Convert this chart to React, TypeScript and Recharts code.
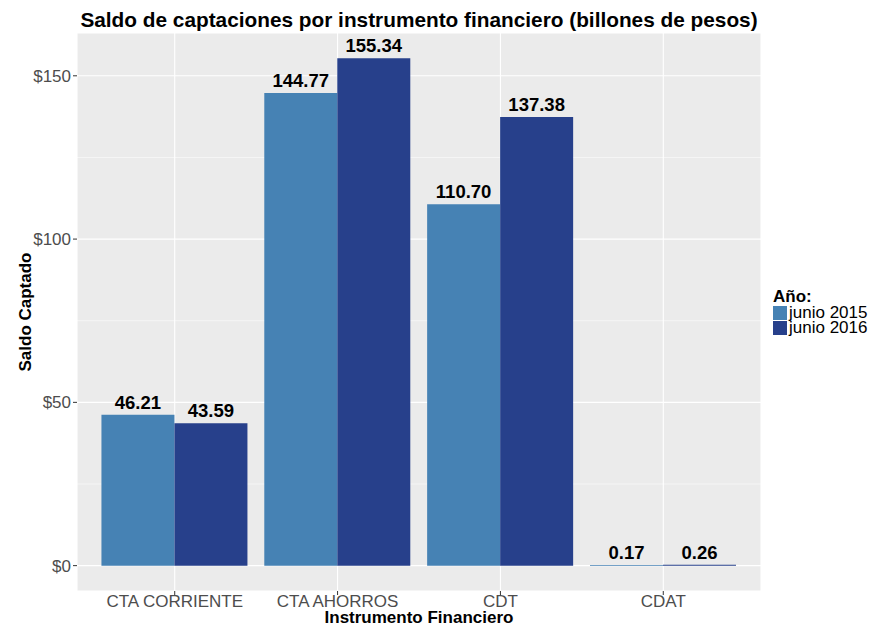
import React from "react";
import {
  Bar,
  BarChart,
  CartesianGrid,
  LabelList,
  XAxis,
  YAxis,
} from "recharts";

const categories = ["CTA CORRIENTE", "CTA AHORROS", "CDT", "CDAT"];
const junio2015 = [46.21, 144.77, 110.7, 0.17];
const junio2016 = [43.59, 155.34, 137.38, 0.26];
const yTicks = [0, 50, 100, 150];
const minorTicks = [25, 75, 125];

const seriesNames = ["junio 2015", "junio 2016"];
const colors = ["#4682B4", "#27408B"];

const FONT = "'Liberation Sans', Arial, Helvetica, sans-serif";

const data = categories.map((name, i) => ({
  name,
  y2015: junio2015[i],
  y2016: junio2016[i],
}));

const fmt = (v: any) => Number(v).toFixed(2);

const labelStyle = { fill: "#000", fontSize: 18.5, fontWeight: "bold", fontFamily: FONT };

export default function App() {
  return (
    <div style={{ position: "relative", width: 872, height: 628, fontFamily: FONT }}>
      <style>{"body{margin:0;background:#fff}"}</style>
      <BarChart
        width={872}
        height={628}
        data={data}
        margin={{ top: 33, right: 111, bottom: 0, left: 0 }}
        barCategoryGap="5%"
        barGap={0}
      >
        <CartesianGrid fill="#EBEBEB" stroke="#FFFFFF" strokeWidth={1.1} />
        {/* minor grid, thinner, still behind the bars */}
        <CartesianGrid
          vertical={false}
          horizontalValues={minorTicks}
          stroke="#FFFFFF"
          strokeWidth={0.55}
        />
        <XAxis
          dataKey="name"
          height={37}
          axisLine={false}
          tickSize={4}
          tickMargin={0}
          tickLine={{ stroke: "#333333" }}
          padding={{ left: 16.3, right: 16.3 }}
          tick={{ fill: "#4D4D4D", fontSize: 17, fontFamily: FONT }}
          interval={0}
        />
        <YAxis
          width={77}
          domain={[-7.77, 163.11]}
          ticks={yTicks}
          allowDataOverflow
          axisLine={false}
          tickSize={4}
          tickMargin={2}
          tickLine={{ stroke: "#333333" }}
          tickFormatter={(v) => `$${v}`}
          tick={{ fill: "#4D4D4D", fontSize: 17, fontFamily: FONT }}
        />
        <Bar dataKey="y2015" name={seriesNames[0]} fill={colors[0]} isAnimationActive={false}>
          <LabelList dataKey="y2015" position="top" offset={6} formatter={fmt} style={labelStyle} />
        </Bar>
        <Bar dataKey="y2016" name={seriesNames[1]} fill={colors[1]} isAnimationActive={false}>
          <LabelList dataKey="y2016" position="top" offset={6} formatter={fmt} style={labelStyle} />
        </Bar>
      </BarChart>
      <svg
        width={872}
        height={628}
        style={{ position: "absolute", left: 0, top: 0, pointerEvents: "none" }}
        fontFamily={FONT}
      >
        <text x={419} y={27} textAnchor="middle" fontSize={20.8} fontWeight="bold" fill="#000">
          Saldo de captaciones por instrumento financiero (billones de pesos)
        </text>
        <text x={419} y={623} textAnchor="middle" fontSize={17} fontWeight="bold" fill="#000">
          Instrumento Financiero
        </text>
        <text
          x={31}
          y={312}
          textAnchor="middle"
          fontSize={17}
          fontWeight="bold"
          fill="#000"
          transform="rotate(-90 31 312)"
        >
          Saldo Captado
        </text>
        <text x={773} y={302} fontSize={17} fontWeight="bold" fill="#000">
          Año:
        </text>
        {seriesNames.map((s, i) => (
          <g key={s}>
            <rect x={773} y={306 + i * 15} width={14} height={14} fill={colors[i]} />
            <text x={789} y={318 + i * 15} fontSize={17} fill="#000">
              {s}
            </text>
          </g>
        ))}
      </svg>
    </div>
  );
}
